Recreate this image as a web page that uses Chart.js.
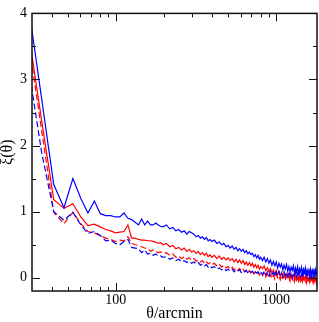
<!DOCTYPE html>
<html><head><meta charset="utf-8">
<script src="https://cdn.jsdelivr.net/npm/chart.js@4"></script>
<style>html,body{margin:0;padding:0;background:#fff}#wrap{width:319px;height:322px}</style>
</head><body><div id="wrap"><canvas id="c" width="319" height="322"></canvas></div>
<script>
const theta = [28,34.5,41,47.5,54,60.5,67,73.5,80,86.5,93,99.5,106,112.5,119,125.5,132,138.5,145,151.5,158,164.5,171,177.5,184,190.5,197,
207,217,227,237,247,257,267,277,287,297,307,317,327,337,347,357,367,377,387,397,
412,427,442,457,472,487,502,517,532,547,562,577,592,607,622,637,652,667,682,697,712,727,742,757,772,787,802,
822,842,862,882,902,922,942,962,982,1002,1022,1042,1062,1082,1102,1122,1142,1162,1182,1202,1222,1242,1262,1282,1302,1322,1342,1362,1382,1402,1422,1442,1462,1482,1502,1522,1542,1562,1582,1602,1622,1642,1662,1682,1702,1722,1742,1762,1782,1802];

const blueSolid = [4.25,2.70,1.41,1.06,1.50,1.20,0.98,1.16,0.97,0.94,0.94,0.92,0.92,0.98,0.90,0.88,0.84,0.80,0.89,0.80,0.86,0.80,0.80,0.83,0.80,0.78,0.77,
0.80,0.74,0.76,0.71,0.73,0.69,0.71,0.66,0.70,0.68,0.66,0.62,0.64,0.60,0.62,0.58,0.61,0.56,0.58,0.55,
0.57,0.52,0.54,0.50,0.52,0.47,0.49,0.45,0.48,0.43,0.46,0.41,0.44,0.40,0.43,0.38,0.41,0.36,0.39,0.35,0.37,0.32,0.35,0.30,0.34,0.28,0.31,
0.26,0.31,0.24,0.29,0.22,0.27,0.19,0.25,0.18,0.24,0.15,0.22,0.16,0.21,0.12,0.19,0.13,0.20,0.10,0.17,0.09,0.16,0.11,0.18,0.07,0.15,0.08,0.17,0.06,0.14,0.09,0.16,0.05,0.13,0.08,0.15,0.04,0.12,0.07,0.14,0.05,0.13,0.03,0.11,0.06,0.14,0.04,0.12,0.05,0.10];

const redSolid = [3.85,2.37,1.18,1.05,1.12,0.92,0.79,0.81,0.77,0.73,0.71,0.68,0.69,0.70,0.80,0.60,0.60,0.58,0.57,0.57,0.56,0.56,0.55,0.54,0.52,0.53,0.50,
0.52,0.47,0.49,0.44,0.46,0.42,0.45,0.40,0.43,0.39,0.41,0.37,0.40,0.35,0.38,0.34,0.37,0.32,0.35,0.31,
0.34,0.29,0.33,0.28,0.31,0.27,0.30,0.26,0.29,0.24,0.28,0.23,0.27,0.22,0.26,0.20,0.24,0.19,0.23,0.18,0.22,0.16,0.20,0.15,0.19,0.13,0.17,
0.14,0.18,0.11,0.15,0.09,0.14,0.07,0.12,0.05,0.11,0.04,0.09,0.02,0.08,0.03,0.07,0.00,0.06,0.01,0.05,-0.02,0.06,0.00,0.04,-0.03,0.05,-0.01,0.03,-0.04,0.04,-0.02,0.02,-0.05,0.03,-0.02,0.02,-0.05,0.03,-0.03,0.01,-0.06,0.02,-0.03,0.01,-0.05,0.02,-0.04,0.00,-0.06,-0.02];

const redDashed = [3.72,2.22,0.99,0.82,0.99,0.82,0.70,0.68,0.64,0.60,0.58,0.55,0.57,0.56,0.62,0.52,0.50,0.49,0.47,0.45,0.44,0.40,0.42,0.40,0.38,0.39,0.37,
0.38,0.34,0.36,0.31,0.33,0.29,0.32,0.28,0.30,0.27,0.29,0.25,0.27,0.24,0.26,0.22,0.25,0.21,0.23,0.20,
0.22,0.18,0.21,0.16,0.19,0.15,0.17,0.13,0.16,0.12,0.15,0.11,0.14,0.10,0.13,0.09,0.12,0.08,0.11,0.07,0.10,0.06,0.09,0.05,0.08,0.04,0.07,
0.03,0.08,0.01,0.06,0.00,0.05,-0.01,0.04,-0.02,0.05,0.00,0.03,-0.03,0.04,-0.01,0.02,-0.04,0.03,-0.02,0.01,-0.05,0.02,-0.03,0.00,-0.06,0.01,-0.04,0.00,-0.07,0.01,-0.05,-0.01,-0.07,0.00,-0.04,-0.02,-0.08,0.00,-0.05,-0.02,-0.08,-0.01,-0.06,-0.03,-0.08,-0.01,-0.06,-0.03,-0.09,-0.04];

const blueDashed = [3.31,1.89,1.00,0.87,0.99,0.80,0.67,0.70,0.64,0.56,0.57,0.52,0.50,0.55,0.58,0.46,0.45,0.44,0.38,0.42,0.36,0.37,0.34,0.36,0.33,0.33,0.31,
0.32,0.28,0.30,0.26,0.28,0.24,0.26,0.23,0.25,0.22,0.24,0.21,0.23,0.19,0.21,0.18,0.20,0.16,0.18,0.15,
0.17,0.13,0.15,0.12,0.14,0.11,0.13,0.10,0.13,0.09,0.12,0.10,0.12,0.08,0.11,0.09,0.11,0.07,0.10,0.08,0.10,0.06,0.09,0.07,0.09,0.05,0.08,
0.05,0.10,0.04,0.09,0.03,0.10,0.05,0.08,0.02,0.09,0.04,0.10,0.03,0.07,0.01,0.09,0.04,0.08,0.02,0.10,0.03,0.07,0.00,0.08,0.04,0.09,0.01,0.07,0.03,0.10,0.02,0.06,0.00,0.08,0.03,0.09,0.01,0.07,0.04,0.08,0.00,0.06,0.03,0.09,0.01,0.07,0.02,0.08,0.03,0.05];

const xMajor = [100, 1000];
const xMinor = [40,50,60,70,80,90,200,300,400,500,600,700,800,900];
const yMajor = [0,1,2,3,4];
const yMinor = [0.5,1.5,2.5,3.5];

const pts = arr => theta.map((t,i)=>({x:t,y:arr[i]}));
const SERIF = "'Liberation Serif','Times New Roman',serif";

const framePlugin = {
  id:'frame',
  afterDraw(chart){
    const {ctx, chartArea:a, scales:{x,y}} = chart;
    ctx.save();
    ctx.strokeStyle='#111';
    ctx.lineWidth=1;
    const seg=(x1,y1,x2,y2)=>{ctx.beginPath();ctx.moveTo(x1,y1);ctx.lineTo(x2,y2);ctx.stroke();};
    const xt=(vals,len)=>vals.forEach(v=>{const p=Math.round(x.getPixelForValue(v))+0.5;seg(p,a.bottom,p,a.bottom-len);seg(p,a.top,p,a.top+len);});
    const yt=(vals,len)=>vals.forEach(v=>{const p=Math.round(y.getPixelForValue(v))+0.5;seg(a.left,p,a.left+len,p);seg(a.right,p,a.right-len,p);});
    xt(xMajor,8); xt(xMinor,4); yt(yMajor,8); yt(yMinor,4);
    ctx.lineWidth=1.5;
    ctx.strokeRect(a.left, a.top, a.right-a.left, a.bottom-a.top);
    ctx.restore();
  }
};

new Chart(document.getElementById('c'), {
  type:'line',
  data:{datasets:[
    {data:pts(blueSolid),borderColor:'#0000ff'},
    {data:pts(blueDashed),borderColor:'#0000ff',borderDash:[6,3]},
    {data:pts(redSolid),borderColor:'#ff0000'},
    {data:pts(redDashed),borderColor:'#ff0000',borderDash:[6,3]}
  ]},
  options:{
    responsive:false, animation:false, devicePixelRatio:1,
    layout:{padding:{top:6,right:2,left:0,bottom:0}},
    plugins:{legend:{display:false},tooltip:{enabled:false}},
    elements:{point:{radius:0},line:{tension:0,borderWidth:1.2,fill:false}},
    scales:{
      x:{type:'logarithmic',min:30,max:1800,
        afterBuildTicks:s=>{s.ticks=xMajor.map(v=>({value:v}));},
        afterFit:s=>{s.height=31;},
        grid:{display:false,drawTicks:false},border:{display:false},
        ticks:{font:{family:SERIF,size:14},color:'#000',padding:1,maxRotation:0,autoSkip:false,callback:v=>String(v)},
        title:{display:true,text:'θ/arcmin',font:{family:SERIF,size:16,lineHeight:1},color:'#000',padding:0}
      },
      y:{type:'linear',min:-0.2,max:4,
        afterBuildTicks:s=>{s.ticks=yMajor.map(v=>({value:v}));},
        afterFit:s=>{s.width=32;},
        grid:{display:false,drawTicks:false},border:{display:false},
        ticks:{font:{family:SERIF,size:14},color:'#000',padding:5,callback:v=>String(v)},
        title:{display:true,text:'ξ(θ)',font:{family:SERIF,size:16,lineHeight:1},color:'#000',padding:0}
      }
    }
  },
  plugins:[framePlugin]
});
</script>
</body></html>
